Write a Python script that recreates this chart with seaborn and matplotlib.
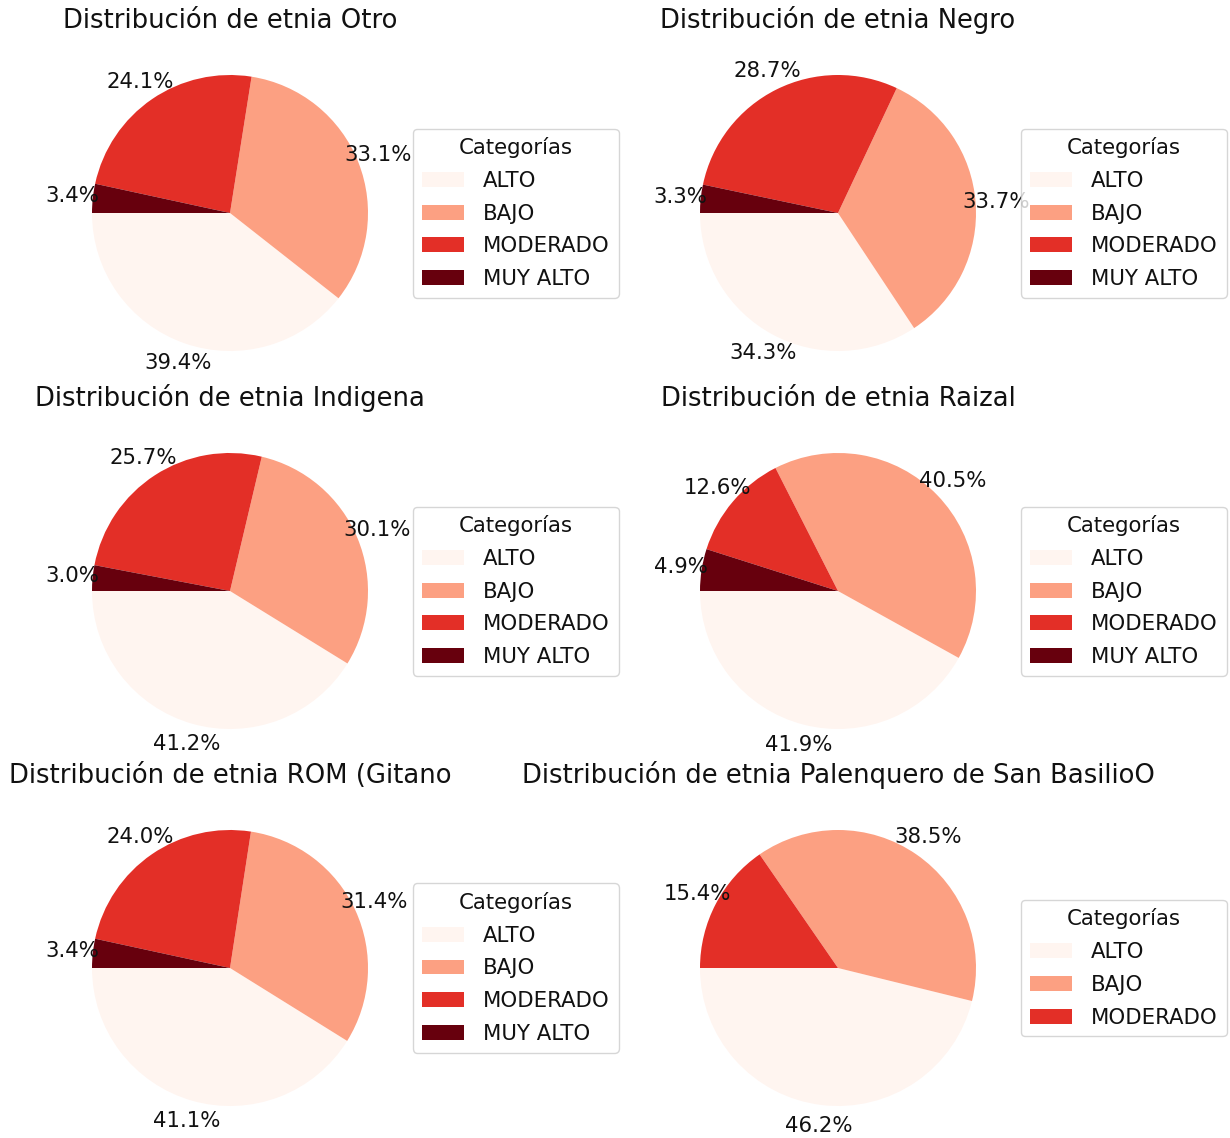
import numpy as np
import seaborn as sns
import matplotlib.pyplot as plt

# Data (percentages)
categorias = ["ALTO", "BAJO", "MODERADO", "MUY ALTO"]
etnias = ["Otro", "Negro", "Indigena", "Raizal", "ROM (Gitano", "Palenquero de San BasilioO"]
otro = [39.4, 33.1, 24.1, 3.4]
negro = [34.3, 33.7, 28.7, 3.3]
indigena = [41.2, 30.1, 25.7, 3.0]
raizal = [41.9, 40.5, 12.6, 4.9]
rom = [41.1, 31.4, 24.0, 3.4]
palenquero = [46.2, 38.5, 15.4]
valores = [otro, negro, indigena, raizal, rom, palenquero]

sns.set_style("white")
plt.rcParams["font.family"] = ["DejaVu Sans"]
plt.rcParams["font.size"] = 15.3
plt.rcParams["text.color"] = "#111111"

reds = sns.color_palette("Reds", as_cmap=True)
colores = reds(np.linspace(0, 1, len(categorias)))

W, H = 1230, 1138
fig = plt.figure(figsize=(W / 100, H / 100), dpi=100)

centros_x = [230, 838]
centros_y = [213, 591, 968]
lado = 345

for i, (etnia, vals) in enumerate(zip(etnias, valores)):
    cx = centros_x[i % 2]
    cy = centros_y[i // 2]
    ax = fig.add_axes([(cx - lado / 2) / W, 1 - (cy + lado / 2) / H, lado / W, lado / H])
    wedges, _, _ = ax.pie(vals, colors=colores[:len(vals)], autopct="%1.1f%%",
                          startangle=180, pctdistance=1.15,
                          wedgeprops={"linewidth": 0, "edgecolor": "none"})
    ax.set_title(f"Distribución de etnia {etnia}", fontsize=18.6, pad=9)
    ax.legend(wedges, categorias[:len(vals)], title="Categorías",
              loc="center left", bbox_to_anchor=(1, 0, 0.5, 1),
              labelspacing=0.6, handletextpad=0.9)

fig.savefig("out.png", dpi=100)
